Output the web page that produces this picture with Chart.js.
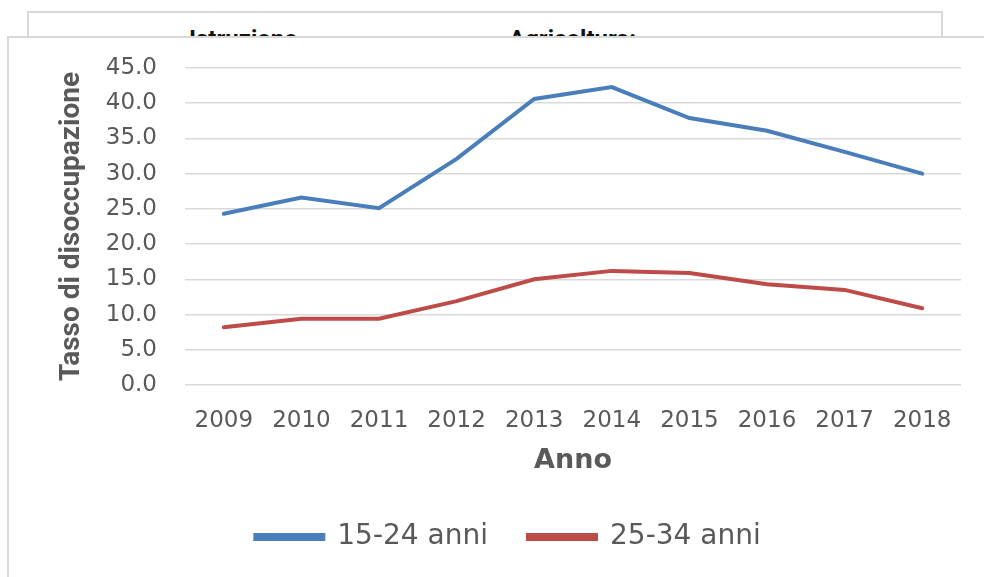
<!DOCTYPE html>
<html>
<head>
<meta charset="utf-8">
<script src="https://cdn.jsdelivr.net/npm/chart.js@4/dist/chart.umd.min.js"></script>
<style>
  body { margin: 0; background: #fff; width: 984px; height: 577px; overflow: hidden; position: relative; }
  .box { position: absolute; border: 2px solid #d9d9d9; background: #fff; }
  #backBox { left: 27px; top: 11px; width: 912px; height: 600px; }
  #frontBox { left: 7px; top: 36px; width: 1000px; height: 600px; }
  .hdr { position: absolute; top: 12px; font: bold 24px "Liberation Sans Narrow", Roboto, sans-serif; color: #111; }
  #chart { position: absolute; left: 0; top: 0; }
</style>
</head>
<body>
<div class="box" id="backBox">
  <span class="hdr" style="left:160px">Istruzione</span>
  <span class="hdr" style="left:480px">Agricoltura:</span>
</div>
<div class="box" id="frontBox"></div>
<canvas id="chart" width="984" height="577"></canvas>
<script>
// Dati
const years = ['2009', '2010', '2011', '2012', '2013', '2014', '2015', '2016', '2017', '2018'];
const young = [24.3, 26.6, 25.1, 32.1, 40.6, 42.3, 37.9, 36.1, 33.1, 30.0];
const adults = [8.2, 9.4, 9.4, 11.9, 15.0, 16.2, 15.9, 14.3, 13.5, 10.9];
const seriesNames = ['15-24 anni', '25-34 anni'];

const gray = '#595959';
const grid = '#d9d9d9';

new Chart(document.getElementById('chart').getContext('2d'), {
    type: 'line',
    data: {
        labels: years,
        datasets: [{
            label: seriesNames[0],
            data: young,
            borderColor: '#4a7ebb',
            backgroundColor: '#4a7ebb',
            borderWidth: 4,
            pointRadius: 0,
            tension: 0,
            borderCapStyle: 'round'
        }, {
            label: seriesNames[1],
            data: adults,
            borderColor: '#be4b48',
            backgroundColor: '#be4b48',
            borderWidth: 4,
            pointRadius: 0,
            tension: 0,
            borderCapStyle: 'round'
        }]
    },
    options: {
        responsive: false,
        animation: false,
        layout: {
            padding: { left: 55, right: 23, top: 68, bottom: 16 }
        },
        plugins: {
            tooltip: { enabled: false },
            legend: {
                position: 'bottom',
                labels: {
                    boxWidth: 68,
                    boxHeight: 4,
                    padding: 40,
                    color: gray,
                    font: { family: 'DejaVu Sans', size: 28 }
                }
            }
        },
        scales: {
            x: {
                offset: true,
                grid: { display: false },
                border: { display: false },
                ticks: {
                    color: gray,
                    padding: 14,
                    maxRotation: 0,
                    font: { family: 'DejaVu Sans', size: 23 }
                },
                title: {
                    display: true,
                    text: 'Anno',
                    color: gray,
                    padding: { top: 0, bottom: 6 },
                    font: { family: 'DejaVu Sans', size: 27, weight: 'bold' }
                },
                afterFit: function(scale) { scale.height = 98; }
            },
            y: {
                min: 0,
                max: 45,
                border: { display: false },
                grid: { color: grid, lineWidth: 1.5, drawTicks: false },
                ticks: {
                    stepSize: 5,
                    color: gray,
                    padding: 28,
                    font: { family: 'DejaVu Sans', size: 23 },
                    callback: function(v) { return v.toFixed(1); }
                },
                title: {
                    display: true,
                    text: 'Tasso di disoccupazione',
                    color: gray,
                    padding: { top: 0, bottom: 0 },
                    font: { family: '"Liberation Sans Narrow", Roboto, sans-serif', size: 28, weight: 'bold' }
                },
                afterFit: function(scale) { scale.width = 130; }
            }
        }
    }
});
</script>
</body>
</html>
